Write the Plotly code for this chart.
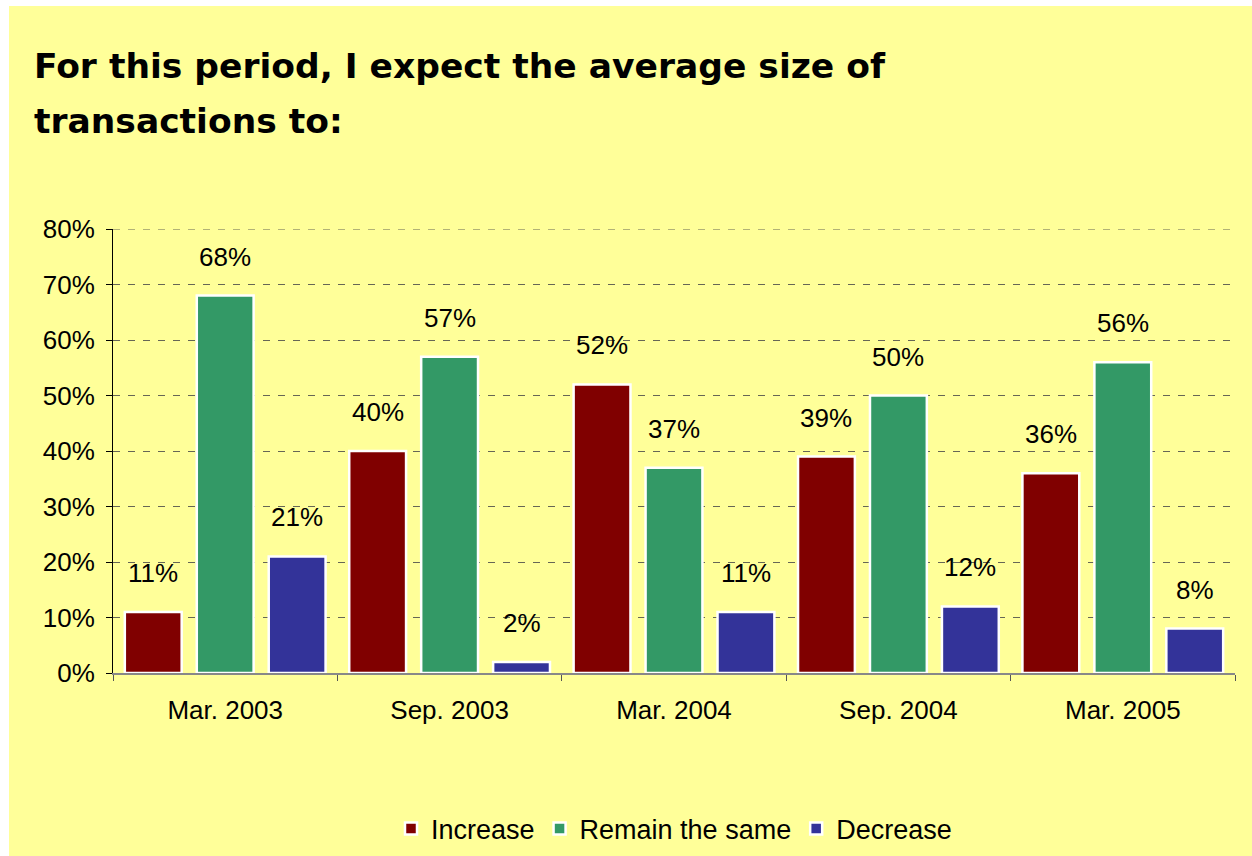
import plotly.graph_objects as go

categories = ["Mar. 2003", "Sep. 2003", "Mar. 2004", "Sep. 2004", "Mar. 2005"]
increase = [0.11, 0.40, 0.52, 0.39, 0.36]
remain = [0.68, 0.57, 0.37, 0.50, 0.56]
decrease = [0.21, 0.02, 0.11, 0.12, 0.08]
series_names = ["Increase", "Remain the same", "Decrease"]
series_values = [increase, remain, decrease]
series_colors = ["#800000", "#339966", "#333399"]
title_lines = ["For this period, I expect the average size of", "transactions to:"]

W, H = 1252, 856
L, R, T, B = 113, 17, 229, 183
pw = W - L - R
ph = H - T - B
YMAX = 0.8

def px_x(px):
    return (px - L) / pw

def px_y(py):
    return (H - B - py) / ph

fig = go.Figure()
for name, vals, col in zip(series_names, series_values, series_colors):
    fig.add_trace(go.Bar(
        x=categories, y=vals, name=name,
        marker=dict(color=col, line=dict(color="white", width=2.5)),
    ))

font_main = "Liberation Sans, Arial, sans-serif"
annotations = []
offsets = [-72, 0, 72]
for vals, off in zip(series_values, offsets):
    for c, v in zip(categories, vals):
        annotations.append(dict(
            x=c, y=v, xref="x", yref="y", text=f"{round(v*100)}%",
            showarrow=False, xshift=off, yanchor="bottom", yshift=22,
            font=dict(family=font_main, size=26, color="black"),
        ))

for line, py in zip(title_lines, [66, 121]):
    annotations.append(dict(
        x=px_x(32), y=px_y(py), xref="paper", yref="paper", text=f"<b>{line}</b>",
        showarrow=False, xanchor="left", yanchor="middle",
        font=dict(family="DejaVu Sans, sans-serif", size=34.5, color="black"),
    ))

grid_style = dict(color="#666655", width=1.2, dash="7px,8px")

fig.update_layout(
    width=W, height=H,
    margin=dict(l=L, r=R, t=T, b=B, pad=0, autoexpand=False),
    paper_bgcolor="white",
    plot_bgcolor="#FFFF99",
    barmode="group",
    bargap=0.038,
    bargroupgap=0.21,
    font=dict(family=font_main, size=26, color="black"),
    showlegend=True,
    legend=dict(
        orientation="h", x=0.5, xanchor="center", y=px_y(829), yanchor="middle",
        font=dict(family=font_main, size=27, color="black"),
        bgcolor="rgba(0,0,0,0)", itemwidth=30, traceorder="normal",
    ),
    annotations=annotations,
    shapes=[
        dict(
            type="rect", xref="paper", yref="paper", layer="below",
            x0=px_x(9), x1=px_x(W + 5), y0=px_y(H + 5), y1=px_y(6),
            fillcolor="#FFFF99", line=dict(width=0),
        ),
        dict(
            type="line", xref="paper", yref="y", layer="below",
            x0=0, x1=1, y0=YMAX, y1=YMAX, line=grid_style,
        ),
    ],
)

fig.update_xaxes(
    automargin=False,
    showline=True, linecolor="#888888", linewidth=2,
    ticks="outside", tickson="boundaries", ticklen=6, tickcolor="#555555",
    ticklabelstandoff=13,
    tickfont=dict(family=font_main, size=26, color="black"),
    showgrid=False, zeroline=False,
)
fig.update_yaxes(
    automargin=False,
    range=[0, YMAX], dtick=0.1, tickformat=".0%",
    showline=True, linecolor="black", linewidth=1,
    ticks="outside", ticklen=6, tickcolor="black",
    ticklabelstandoff=6,
    tickfont=dict(family=font_main, size=26, color="black"),
    showgrid=True, gridcolor=grid_style["color"], gridwidth=grid_style["width"],
    griddash=grid_style["dash"],
    zeroline=False,
)

fig.write_html(
    "out.html",
    config={"displayModeBar": False},
    post_script=(
        "document.body.style.margin='0';"
        "document.body.style.overflow='hidden';"
    ),
)
